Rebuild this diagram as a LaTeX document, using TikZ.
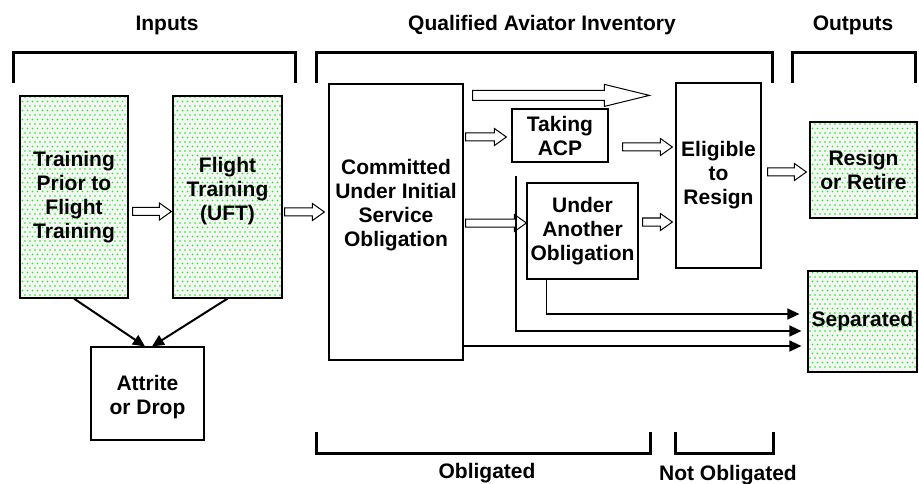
\documentclass[tikz,border=0pt]{standalone}
\usepackage{fontspec}
\setmainfont{Liberation Sans}
\usetikzlibrary{calc,arrows.meta,patterns}

\definecolor{dotgreen}{RGB}{0,255,0}
\definecolor{dotback}{RGB}{245,245,245}

% staggered grid of small dots
\pgfdeclarepatternformonly{greendots}{\pgfqpoint{-1pt}{-1pt}}{\pgfqpoint{6pt}{10pt}}{\pgfqpoint{5pt}{9pt}}{%
  \pgfpathcircle{\pgfqpoint{0pt}{0pt}}{0.85pt}%
  \pgfpathcircle{\pgfqpoint{2.5pt}{4.5pt}}{0.85pt}%
  \pgfusepath{fill}}

% horizontal hollow block arrow: tail, tip, shaft half-width, head half-width, head length
\newcommand\blockarrow[5]{%
  \draw[hollow] let \p1=#1, \p2=#2 in
    (\x1,\y2+#3pt) -- (\x2-#5pt,\y2+#3pt) -- (\x2-#5pt,\y2+#4pt) -- (\x2,\y2)
    -- (\x2-#5pt,\y2-#4pt) -- (\x2-#5pt,\y2-#3pt) -- (\x1,\y2-#3pt) -- cycle;}

\begin{document}
\begin{tikzpicture}[x=1pt,y=-1pt,
  every node/.style={font=\fontsize{21}{24}\selectfont\bfseries, align=center, inner sep=0pt},
  box/.style={draw, line width=1.2pt, rectangle},
  dotbox/.style={box, preaction={fill=dotback}, pattern=greendots, pattern color=dotgreen},
  hollow/.style={draw, fill=white, line width=1pt, line join=miter},
  flow/.style={line width=1.4pt, -{Triangle[length=12pt,width=11pt]}},
  bracket/.style={line width=3pt, line join=miter},
]
\useasboundingbox (0,0) rectangle (919,484);

% headings
\node[anchor=base] (hin)  at (167,31) {Inputs};
\node[anchor=base] (hqai) at (542,31) {Qualified Aviator Inventory};
\node[anchor=base] (hout) at (853,31) {Outputs};
\node[anchor=base] (hobl) at (487,478) {Obligated};
\node[anchor=base] (hnob) at (728,480) {Not Obligated};

% brackets
\draw[bracket] (13,83) -- (13,53) -- (295,53) -- (295,83);
\draw[bracket] (316,83) -- (316,53) -- (772,53) -- (772,83);
\draw[bracket] (792,83) -- (792,53) -- (915,53) -- (915,83);
\draw[bracket] (316,432) -- (316,453) -- (650,453) -- (650,432);
\draw[bracket] (675,432) -- (675,453) -- (773,453) -- (773,432);

% boxes
\node[dotbox, minimum width=108pt, minimum height=202pt] (train) at (74,197) {Training\\Prior to\\Flight\\Training};
\node[dotbox, minimum width=109pt, minimum height=202pt] (uft) at (227.5,197) {};
\node (ufttext) at ($(uft.center)+(0,-6)$) {Flight\\Training\\(UFT)};
\node[box, minimum width=113pt, minimum height=93pt] (attrite) at (147.5,393.5) {};
\node (attritetext) at ($(attrite.center)+(0,4)$) {Attrite\\or Drop};
\node[box, minimum width=134pt, minimum height=276pt] (committed) at (396,222) {};
\node (committedtext) at ($(committed.center)+(0,-17)$) {Committed\\Under Initial\\Service\\Obligation};
\node[box, minimum width=96pt, minimum height=53pt] (taking) at (560,135.5) {Taking\\ACP};
\node[box, minimum width=111pt, minimum height=96pt] (under) at (582.5,231) {Under\\Another\\Obligation};
\node[box, minimum width=85pt, minimum height=185pt] (eligible) at (718.5,175.5) {Eligible\\to\\Resign};
\node[dotbox, minimum width=107pt, minimum height=96pt] (resign) at (863.5,170) {Resign\\or Retire};
\node[dotbox, minimum width=109pt, minimum height=101pt] (separated) at (862.5,321.5) {Separated};

% hollow flow arrows
\blockarrow{($(train.east)+(4,14.5)$)}{($(uft.west)+(-1,14.5)$)}{4}{8.5}{12}
\blockarrow{($(uft.east)+(2,15)$)}{($(committed.west)+(-4,-10)$)}{4}{8.5}{12}
\blockarrow{($(committed.north east)+(9,12)$)}{($(eligible.north west)+(-26,13)$)}{5}{11}{45}
\blockarrow{($(committed.east |- taking.west)+(2,1.5)$)}{($(taking.west)+(-5,1.5)$)}{4}{8.5}{12}
\blockarrow{($(committed.east)+(2,1)$)}{($(under.west)+(0,-8)$)}{4}{8.5}{12}
\blockarrow{($(taking.east)+(14,11.5)$)}{($(eligible.west |- taking.east)+(-3,11.5)$)}{4}{8.5}{12}
\blockarrow{($(under.east)+(4,-9)$)}{($(eligible.west |- under.east)+(-3,-9)$)}{4}{8.5}{12}
\blockarrow{($(eligible.east)+(6,-3.5)$)}{($(resign.west)+(-3,2)$)}{4}{8.5}{12}

% attrition
\draw[flow, line width=2pt] (train.south) -- ($(attrite.north)+(-2.5,0)$);
\draw[flow, line width=2pt] (uft.south) -- ($(attrite.north)+(4.5,0)$);

% separation paths
\coordinate (split) at (516,176);
\draw[flow] ($(under.south west)+(20,0)$) |- ($(separated.west)+(-8,-7.5)$);
\draw[flow] (split) |- ($(separated.west)+(-6,9.5)$);
\draw[flow] ($(committed.east)+(0,124)$) -- ($(separated.west)+(-6,24.5)$);
\end{tikzpicture}
\end{document}
